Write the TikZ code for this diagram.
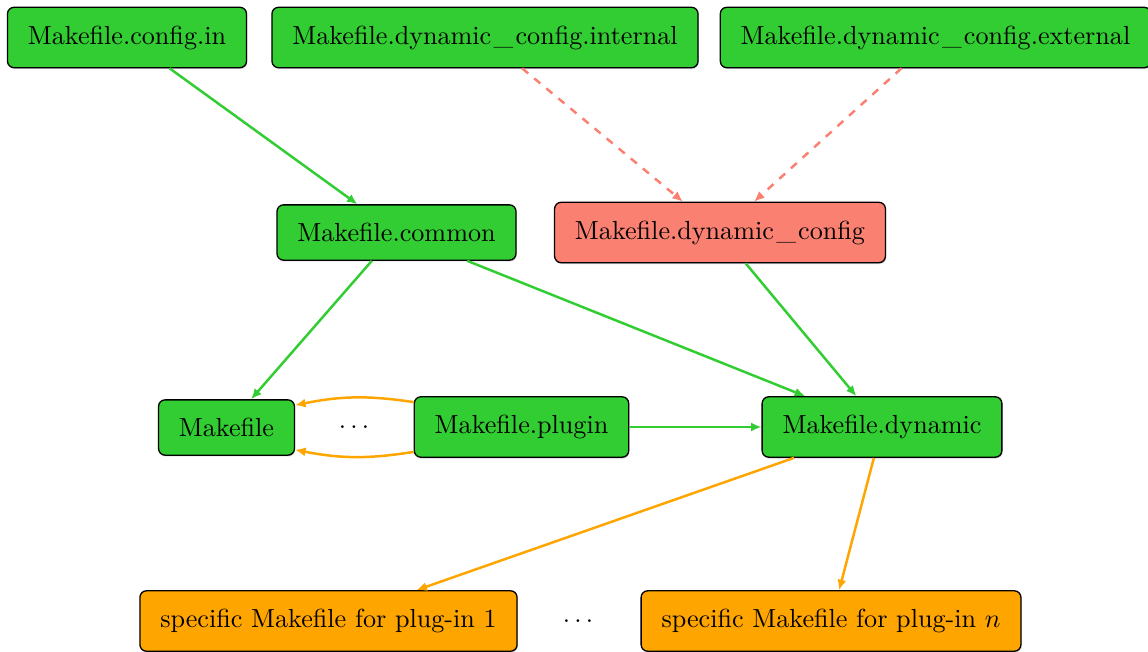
\documentclass[tikz,border=0pt]{standalone}
\usetikzlibrary{arrows.meta,shadows}
\definecolor{mgreen}{RGB}{50,205,50}
\definecolor{msalmon}{RGB}{250,128,114}
\definecolor{morange}{RGB}{255,165,0}
\newcommand{\usc}{\kern0.9pt\_\kern0.9pt}
\tikzset{
  box/.style={draw=black, line width=0.5pt, rounded corners=2.5pt, inner xsep=7.8pt, inner ysep=7pt,
    drop shadow={shadow xshift=0.3pt, shadow yshift=-0.5pt, opacity=0.35}},
  gbox/.style={box, fill=mgreen},
  sbox/.style={box, fill=msalmon},
  obox/.style={box, fill=morange},
  garr/.style={draw=mgreen, line width=0.95pt, -{Latex[length=4pt,width=3.5pt]}},
  sarr/.style={draw=msalmon, line width=0.95pt, dashed, -{Latex[length=4pt,width=3.5pt]}},
  oarr/.style={draw=morange, line width=0.95pt, -{Latex[length=4pt,width=3.5pt]}},
}
\begin{document}
\begin{tikzpicture}[x=0.3826pt, y=-0.3826pt]
\useasboundingbox (0,0) rectangle (1148,651);
\node[gbox] (cfgin) at (127,37.5) {Makefile.config.in};
\node[gbox] (int) at (485,37.5) {Makefile.dynamic\usc config.internal};
\node[gbox] (ext) at (935.5,37.5) {Makefile.dynamic\usc config.external};
\node[gbox] (common) at (396.5,232.5) {Makefile.common};
\node[sbox] (dcfg) at (720,232.5) {Makefile.dynamic\usc config};
\node[gbox] (mk) at (226.5,427.5) {Makefile};
\node (dots1) at (354,427) {$\dots$};
\node[gbox] (plugin) at (521.5,427) {Makefile.plugin};
\node[gbox] (dyn) at (882,427) {Makefile.dynamic};
\node[obox] (sp1) at (328.5,621) {specific Makefile for plug-in 1};
\node (dots2) at (578,621) {$\dots$};
\node[obox] (spn) at (831,621) {specific Makefile for plug-in $n$};

\draw[garr] (cfgin) -- (common);
\draw[sarr] (int) -- (dcfg);
\draw[sarr] (ext) -- (dcfg);
\draw[garr] (common) -- (mk);
\draw[garr] (common) -- (dyn);
\draw[garr] (dcfg) -- (dyn);
\draw[garr] (plugin) -- (dyn);
\draw[oarr] (plugin.167) to[bend right=10] (mk.18);
\draw[oarr] (plugin.193) to[bend left=10] (mk.342);
\draw[oarr] (dyn) -- (sp1);
\draw[oarr] (dyn) -- (spn);
\end{tikzpicture}
\end{document}
